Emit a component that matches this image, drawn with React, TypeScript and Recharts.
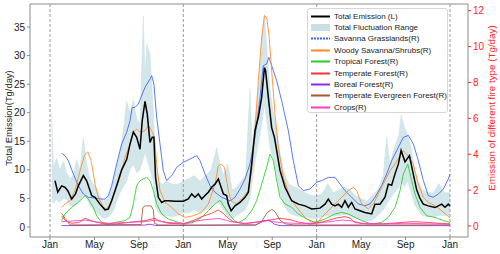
import React from "react";
import { ComposedChart, Line, Area, XAxis, YAxis, ReferenceLine } from "recharts";

// x = months since 1 Jan of the first year
const tickMonths = [0, 4, 8, 12, 16, 20, 24, 28, 32, 36];
const tickLabels = ["Jan", "May", "Sep", "Jan", "May", "Sep", "Jan", "May", "Sep", "Jan"];
const leftTicks = [0, 5, 10, 15, 20, 25, 30, 35];
const rightTicks = [0, 2, 4, 6, 8, 10, 12];
const yearStarts = [0, 12, 24, 36];

// Total Emission (left axis, Tg/day)
const totalEmission: [number, number][] = [
  [0.45, 8.1], [0.7, 6.1], [1.05, 7.2], [1.35, 6.95], [1.6, 6.35], [1.95, 4.9], [2.3, 5.8], [2.55, 7.2],
  [3.0, 9.0], [3.3, 8.1], [3.75, 5.5], [4.05, 5.2], [4.5, 4.0], [4.95, 3.0], [5.25, 3.15], [5.55, 4.6],
  [6.0, 7.2], [6.45, 10.0], [6.9, 11.8], [7.2, 14.5], [7.5, 16.6], [7.8, 15.7], [8.1, 13.6], [8.3, 18.6],
  [8.55, 22.0], [8.75, 19.8], [9.0, 14.8], [9.2, 15.7], [9.35, 15.7], [9.5, 8.7], [9.75, 5.2], [10.05, 4.3],
  [10.35, 4.6], [10.65, 4.6], [11.25, 4.5], [12.0, 4.5], [12.45, 4.9], [12.75, 5.8], [13.05, 5.2], [13.35, 5.8],
  [13.65, 4.9], [13.95, 5.5], [14.25, 6.1], [14.55, 6.95], [14.85, 7.5], [15.15, 8.4], [15.4, 6.95], [15.6, 5.8],
  [15.9, 5.5], [16.05, 4.0], [16.3, 2.85], [16.65, 3.7], [17.1, 4.3], [17.55, 5.2], [17.85, 6.1], [18.15, 11.0],
  [18.45, 16.9], [18.75, 19.2], [19.05, 22.7], [19.3, 27.9], [19.4, 27.4], [19.65, 22.7], [19.95, 17.4], [20.2, 15.7],
  [20.4, 13.4], [20.7, 9.9], [21.15, 6.95], [21.75, 4.6], [22.35, 4.0], [22.95, 3.7], [23.55, 3.15], [24.3, 3.3],
  [24.75, 4.0], [25.05, 4.9], [25.35, 4.0], [25.65, 3.7], [25.95, 4.0], [26.25, 3.45], [26.55, 4.6], [26.85, 3.45],
  [27.15, 4.3], [27.45, 3.15], [27.9, 2.85], [28.35, 2.55], [28.95, 2.3], [29.25, 4.0], [29.7, 4.0], [30.15, 5.2],
  [30.45, 7.5], [30.75, 7.3], [31.05, 9.3], [31.35, 11.0], [31.6, 13.4], [31.95, 11.4], [32.35, 12.5], [32.7, 9.2],
  [33.0, 6.5], [33.3, 5.0], [33.6, 4.0], [34.05, 3.7], [34.65, 3.4], [35.25, 4.0], [35.55, 3.45], [35.85, 4.0], [36.0, 3.7],
];

// Total Fluctuation Range (left axis): [month, low, high]
const fluctuationRange: [number, number, number][] = [
  [0.15, 4.5, 20.2], [0.3, 4.2, 10.5], [0.6, 4.8, 12.0], [0.9, 4.3, 10.0], [1.2, 5.0, 11.5], [1.5, 4.8, 9.5],
  [1.8, 3.8, 8.5], [2.1, 3.5, 9.0], [2.4, 4.0, 11.8], [2.7, 4.5, 10.0], [3.0, 6.0, 15.6], [3.3, 5.0, 11.0],
  [3.6, 3.8, 8.5], [3.9, 3.0, 7.5], [4.2, 2.5, 6.5], [4.5, 2.0, 5.5], [4.8, 1.5, 4.5], [5.1, 1.6, 4.8],
  [5.4, 2.0, 6.0], [5.7, 2.8, 8.0], [6.0, 4.5, 10.5], [6.3, 6.0, 13.0], [6.6, 7.0, 17.0], [6.9, 8.0, 22.0],
  [7.2, 10.0, 20.0], [7.5, 11.0, 22.2], [7.8, 9.5, 19.0], [8.1, 10.0, 18.0], [8.4, 12.0, 37.0], [8.55, 13.0, 26.0],
  [8.7, 12.0, 32.0], [9.0, 10.0, 30.3], [9.3, 8.0, 20.0], [9.5, 3.5, 12.0], [9.8, 2.5, 8.0], [10.1, 2.0, 7.5],
  [10.5, 2.0, 8.0], [11.0, 1.8, 7.5], [11.5, 2.0, 7.5], [12.0, 2.5, 8.0], [12.5, 2.5, 8.5], [13.0, 3.0, 9.0],
  [13.5, 2.5, 8.0], [14.0, 3.0, 9.0], [14.5, 3.5, 10.0], [15.0, 4.5, 13.9], [15.3, 4.0, 11.0], [15.6, 3.0, 9.0],
  [16.0, 1.8, 11.0], [16.4, 1.5, 6.5], [16.8, 2.0, 7.0], [17.2, 2.5, 8.0], [17.6, 3.0, 9.0], [18.0, 5.0, 24.2],
  [18.2, 8.0, 14.0], [18.5, 12.0, 20.0], [18.8, 15.0, 25.0], [19.05, 18.0, 33.2], [19.3, 21.5, 37.3], [19.55, 18.0, 30.3],
  [19.8, 14.0, 24.0], [20.1, 12.0, 20.0], [20.4, 9.0, 17.0], [20.7, 6.0, 13.0], [21.0, 4.0, 10.0], [21.5, 2.5, 7.5],
  [22.0, 2.0, 7.0], [22.5, 1.8, 6.5], [23.0, 1.8, 6.0], [23.5, 1.5, 5.5], [24.0, 1.5, 5.5], [24.5, 1.8, 5.8],
  [25.0, 2.0, 7.6], [25.5, 2.0, 6.0], [26.0, 2.0, 6.5], [26.5, 2.2, 7.0], [27.0, 2.0, 6.5], [27.5, 1.5, 5.5],
  [28.0, 1.2, 5.0], [28.5, 1.0, 4.5], [29.0, 1.2, 5.5], [29.5, 2.0, 6.5], [30.0, 3.0, 9.0], [30.3, 4.0, 15.7],
  [30.6, 5.0, 11.0], [31.0, 6.0, 14.0], [31.4, 7.0, 16.0], [31.6, 8.0, 19.6], [31.9, 7.0, 17.5], [32.2, 8.0, 16.0],
  [32.5, 6.0, 14.0], [32.8, 4.0, 10.0], [33.1, 3.0, 8.0], [33.5, 2.0, 6.5], [34.0, 1.8, 6.0], [34.5, 1.8, 6.0],
  [35.0, 2.0, 7.6], [35.5, 2.0, 6.0], [36.0, 2.0, 6.0],
];

// Right-axis series (Tg/day)
const savannaGrasslands: [number, number][] = [
  [1.05, 4.05], [1.35, 3.92], [1.65, 3.64], [2.1, 2.9], [2.55, 2.25], [3.0, 1.78], [3.45, 1.6], [4.05, 1.56],
  [4.65, 1.5], [4.95, 1.5], [5.25, 1.69], [5.55, 2.25], [6.0, 3.46], [6.45, 4.57], [6.9, 5.22], [7.2, 5.87],
  [7.4, 6.61], [7.65, 6.61], [7.95, 6.8], [8.55, 7.73], [9.0, 8.19], [9.15, 8.38], [9.35, 7.92], [9.6, 6.06],
  [9.9, 4.57], [10.2, 3.08], [10.5, 2.53], [10.95, 2.8], [11.4, 3.27], [12.0, 3.55], [12.6, 3.73], [13.2, 3.92],
  [13.5, 3.64], [13.95, 2.9], [14.4, 2.25], [14.85, 1.88], [15.45, 1.6], [16.2, 1.4], [16.65, 1.6], [17.1, 2.06],
  [17.55, 2.62], [18.0, 3.46], [18.45, 4.94], [18.9, 7.17], [19.2, 8.94], [19.5, 9.03], [19.7, 9.4], [19.95, 8.94],
  [20.4, 8.1], [20.85, 6.98], [21.45, 5.31], [21.9, 3.64], [22.35, 2.25], [22.8, 1.97], [23.4, 2.06], [24.0, 2.44],
  [24.45, 2.53], [25.05, 2.71], [25.65, 2.71], [26.1, 2.34], [26.55, 1.97], [27.15, 1.6], [27.75, 1.23], [28.35, 1.13],
  [28.8, 1.23], [29.25, 1.6], [29.85, 2.25], [30.3, 2.9], [30.75, 3.64], [31.2, 4.2], [31.8, 4.94], [32.25, 5.05],
  [32.7, 4.57], [33.15, 3.64], [33.6, 2.53], [34.05, 1.69], [34.5, 1.6], [34.95, 1.78], [35.4, 2.06], [35.85, 2.62], [36.0, 2.9],
];

const woodySavanna: [number, number][] = [
  [1.05, 1.04], [1.35, 1.23], [1.8, 1.41], [2.25, 1.97], [2.7, 3.08], [3.1, 3.92], [3.4, 4.14], [3.7, 3.64],
  [4.05, 2.34], [4.35, 1.6], [4.8, 1.04], [5.1, 0.95], [5.4, 1.23], [5.85, 1.97], [6.3, 2.71], [6.75, 3.83],
  [7.2, 4.57], [7.5, 5.22], [7.8, 5.41], [8.1, 5.22], [8.55, 5.31], [8.85, 5.6], [9.15, 5.31], [9.4, 4.94],
  [9.6, 3.46], [9.9, 1.97], [10.35, 1.32], [10.95, 1.04], [11.55, 0.67], [12.15, 0.48], [12.9, 0.57], [13.65, 0.76],
  [14.25, 1.23], [14.85, 2.34], [15.15, 3.35], [15.4, 3.46], [15.7, 3.27], [16.05, 1.97], [16.3, 1.4], [16.8, 1.23],
  [17.4, 1.6], [17.85, 1.97], [18.15, 3.08], [18.45, 5.31], [18.75, 8.1], [19.05, 10.5], [19.3, 11.72], [19.5, 11.63],
  [19.7, 10.7], [19.95, 8.66], [20.25, 6.24], [20.55, 4.39], [21.0, 2.71], [21.6, 1.6], [22.2, 1.04], [22.95, 0.48],
  [23.55, 0.2], [24.15, 0.25], [24.45, 0.48], [25.05, 0.85], [25.65, 1.23], [26.25, 1.6], [26.85, 1.97], [27.3, 2.16],
  [27.6, 1.97], [28.05, 1.23], [28.65, 0.95], [29.1, 1.23], [29.55, 1.78], [30.15, 2.53], [30.6, 3.08], [31.05, 3.46],
  [31.5, 3.92], [31.8, 4.2], [32.25, 3.9], [32.7, 3.46], [33.15, 2.34], [33.6, 1.6], [34.05, 1.32], [34.65, 1.13],
  [35.25, 0.85], [36.0, 0.45],
];

const tropicalForest: [number, number][] = [
  [1.05, 0.3], [1.35, 0.67], [1.95, 1.04], [2.55, 1.32], [3.15, 1.69], [3.45, 1.5], [3.9, 1.04], [4.2, 0.57],
  [4.65, 0.2], [5.25, 0.11], [5.85, 0.2], [6.75, 0.3], [7.2, 0.48], [7.5, 1.23], [7.8, 2.25], [8.1, 2.53],
  [8.7, 2.71], [9.0, 2.53], [9.3, 1.97], [9.6, 1.23], [10.05, 0.67], [10.65, 0.39], [11.55, 0.2], [12.15, 0.11],
  [12.9, 0.2], [13.65, 0.48], [14.25, 0.85], [14.85, 1.23], [15.3, 1.43], [15.75, 1.0], [16.2, 0.6], [16.6, 0.3],
  [16.95, 0.2], [17.55, 0.39], [18.15, 0.85], [18.6, 1.41], [19.05, 2.34], [19.5, 3.27], [19.8, 4.01], [20.1, 3.64],
  [20.4, 2.53], [20.7, 1.6], [21.15, 1.23], [21.75, 1.04], [22.35, 0.67], [23.1, 0.39], [23.85, 0.2], [24.75, 0.39],
  [25.65, 0.67], [26.25, 0.76], [26.85, 0.67], [27.45, 0.48], [28.05, 0.3], [28.95, 0.11], [29.85, 0.2], [30.45, 0.48],
  [31.05, 1.04], [31.5, 1.97], [31.8, 2.9], [32.2, 3.45], [32.55, 2.53], [32.85, 1.78], [33.3, 1.04], [33.9, 0.57],
  [34.65, 0.48], [35.4, 0.3], [36.0, 0.2],
];

const temperateForest: [number, number][] = [
  [1.05, 0.56], [1.4, 0.3], [1.95, 0.15], [2.6, 0.2], [3.15, 0.43], [3.5, 0.35], [4.0, 0.24], [4.95, 0.11],
  [6.0, 0.12], [7.65, 0.24], [8.55, 0.3], [9.45, 0.43], [9.75, 0.3], [10.65, 0.15], [12.0, 0.12], [13.0, 0.33],
  [13.65, 0.52], [14.5, 0.7], [15.15, 0.89], [15.6, 0.7], [16.0, 0.45], [16.5, 0.24], [17.55, 0.12], [18.8, 0.24],
  [19.75, 0.33], [20.7, 0.43], [21.6, 0.35], [22.5, 0.2], [23.4, 0.11], [24.6, 0.24], [25.8, 0.45], [26.55, 0.52],
  [27.0, 0.45], [27.45, 0.19], [28.5, 0.12], [30.0, 0.12], [32.55, 0.24], [33.5, 0.22], [35.0, 0.15], [36.0, 0.12],
];

const borealForest: [number, number][] = [
  [1.05, 0.02], [8.5, 0.05], [9.0, 0.1], [9.5, 0.03], [18.5, 0.05], [19.3, 0.3], [19.7, 0.33], [20.2, 0.1],
  [20.7, 0.02], [36.0, 0.02],
];

const temperateEvergreen: [number, number][] = [
  [1.05, 0.71], [1.35, 0.43], [1.8, 0.06], [8.2, 0.08], [8.35, 1.0], [8.5, 1.12], [9.1, 1.12], [9.3, 0.9],
  [9.4, 0.15], [9.75, 0.06], [12.0, 0.05], [18.5, 0.06], [19.05, 0.24], [19.5, 0.71], [19.95, 0.93], [20.25, 0.8],
  [20.7, 0.33], [21.15, 0.12], [22.0, 0.06], [36.0, 0.06],
];

const crops: [number, number][] = [
  [1.05, 0.24], [2.5, 0.3], [3.2, 0.33], [4.0, 0.24], [5.25, 0.15], [7.0, 0.2], [8.5, 0.24], [9.45, 0.33],
  [10.5, 0.2], [12.0, 0.15], [13.65, 0.33], [15.2, 0.42], [15.8, 0.33], [16.3, 0.24], [17.5, 0.15], [19.0, 0.24],
  [19.6, 0.3], [20.5, 0.2], [22.0, 0.15], [24.0, 0.15], [26.25, 0.33], [27.0, 0.3], [28.0, 0.15], [30.0, 0.12],
  [32.0, 0.15], [34.0, 0.12], [36.0, 0.1],
];

const toPts = (arr: [number, number][]) => arr.map(([m, v]) => ({ m, v }));
const rangePts = fluctuationRange.map(([m, lo, hi]) => ({ m, r: [lo, hi] }));

const rightSeries = [
  { name: "Savanna Grasslands(R)", color: "#3d63f0", data: savannaGrasslands, dash: "2 1" },
  { name: "Woody Savanna/Shrubs(R)", color: "#ff8a26", data: woodySavanna },
  { name: "Tropical Forest(R)", color: "#27cc27", data: tropicalForest },
  { name: "Temperate Forest(R)", color: "#ff3333", data: temperateForest },
  { name: "Boreal Forest(R)", color: "#8a2be2", data: borealForest },
  { name: "Temperate Evergreen Forest(R)", color: "#a8582a", data: temperateEvergreen },
  { name: "Crops(R)", color: "#ff3ccc", data: crops },
];

const FONT = "'Liberation Sans', Arial, Helvetica, sans-serif";
const BAND = "#c8e0e4";
const FRAME = "#8c8c8c";
const RED = "#ff2626";

export default function App() {
  const legendRows = [
    { name: "Total Emission (L)", color: "#000", kind: "line" },
    { name: "Total Fluctuation Range", color: BAND, kind: "band" },
    ...rightSeries.map((s) => ({ name: s.name, color: s.color, kind: "line", dash: (s as any).dash })),
  ];
  return (
    <div style={{ position: "absolute", left: 0, top: 0, width: 500, height: 254, fontFamily: FONT, background: "#fff" }}>
      <ComposedChart width={500} height={254} margin={{ top: 4, right: 0, bottom: 0, left: 0 }}>
        <XAxis
          dataKey="m"
          type="number"
          domain={[-1.8, 37.62]}
          allowDataOverflow
          ticks={tickMonths}
          tickFormatter={(v: number) => tickLabels[tickMonths.indexOf(v)] ?? ""}
          height={17}
          tickSize={3}
          tickMargin={1}
          interval={0}
          axisLine={{ stroke: FRAME }}
          tickLine={{ stroke: FRAME }}
          tick={{ fontSize: 10, fill: "#222" }}
        />
        <YAxis
          yAxisId="L"
          orientation="left"
          domain={[-1.75, 39.03]}
          allowDataOverflow
          ticks={leftTicks}
          width={30}
          tickSize={3}
          tickMargin={2}
          interval={0}
          axisLine={{ stroke: FRAME }}
          tickLine={{ stroke: FRAME }}
          tick={{ fontSize: 10, fill: "#222" }}
        />
        <YAxis
          yAxisId="R"
          orientation="right"
          domain={[-0.613, 12.373]}
          allowDataOverflow
          ticks={rightTicks}
          width={32}
          tickSize={3}
          tickMargin={2}
          interval={0}
          axisLine={{ stroke: FRAME }}
          tickLine={{ stroke: RED }}
          tick={{ fontSize: 10, fill: RED }}
        />
        <ReferenceLine yAxisId="L" y={39.03} stroke={FRAME} ifOverflow="visible" />
        {yearStarts.map((m) => (
          <ReferenceLine key={m} yAxisId="L" x={m} stroke="#9a9a9a" strokeDasharray="3 2" ifOverflow="visible" />
        ))}
        <Area
          yAxisId="L"
          data={rangePts}
          dataKey="r"
          type="linear"
          stroke={BAND}
          strokeWidth={0.5}
          fill={BAND}
          fillOpacity={0.8}
          isAnimationActive={false}
          dot={false}
          activeDot={false}
        />
        {rightSeries.map((s) => (
          <Line
            key={s.name}
            yAxisId="R"
            data={toPts(s.data)}
            dataKey="v"
            type="linear"
            stroke={s.color}
            strokeWidth={1}
            strokeOpacity={0.85}
            dot={false}
            activeDot={false}
            isAnimationActive={false}
          />
        ))}
        <Line
          yAxisId="L"
          data={toPts(totalEmission)}
          dataKey="v"
          type="linear"
          stroke="#000"
          strokeWidth={1.5}
          dot={false}
          activeDot={false}
          isAnimationActive={false}
        />
      </ComposedChart>
      <svg width={500} height={254} style={{ position: "absolute", left: 0, top: 0, pointerEvents: "none" }}>
        <text x={8} y={118} transform="rotate(-90 8 118)" textAnchor="middle" dominantBaseline="central" fontSize={9.4} fill="#222" fontFamily={FONT}>
          Total Emission(Tg/day)
        </text>
        <text x={491} y={108} transform="rotate(-90 491 108)" textAnchor="middle" dominantBaseline="central" fontSize={9.8} fill={RED} fontFamily={FONT}>
          Emission of different fire type (Tg/day)
        </text>
      </svg>
      <div
        style={{
          position: "absolute",
          left: 307,
          top: 8,
          width: 141,
          height: 105,
          boxSizing: "border-box",
          border: "1px solid #d6d6d6",
          borderRadius: 3,
          background: "rgba(255,255,255,0.9)",
        }}
      >
        {legendRows.map((r, i) => (
          <div key={r.name} style={{ position: "absolute", left: 0, top: 1.5 + i * 11.4, height: 11, width: 141, display: "flex", alignItems: "center" }}>
            <svg width={26} height={11} style={{ flex: "none" }}>
              {r.kind === "band" ? (
                <rect x={3} y={2} width={19} height={7} fill={BAND} />
              ) : (
                <line x1={3} x2={22} y1={5.5} y2={5.5} stroke={r.color} strokeWidth={2} strokeDasharray={(r as any).dash} />
              )}
            </svg>
            <span style={{ fontSize: 8, color: "#222", whiteSpace: "nowrap", lineHeight: "11px" }}>{r.name}</span>
          </div>
        ))}
      </div>
    </div>
  );
}
